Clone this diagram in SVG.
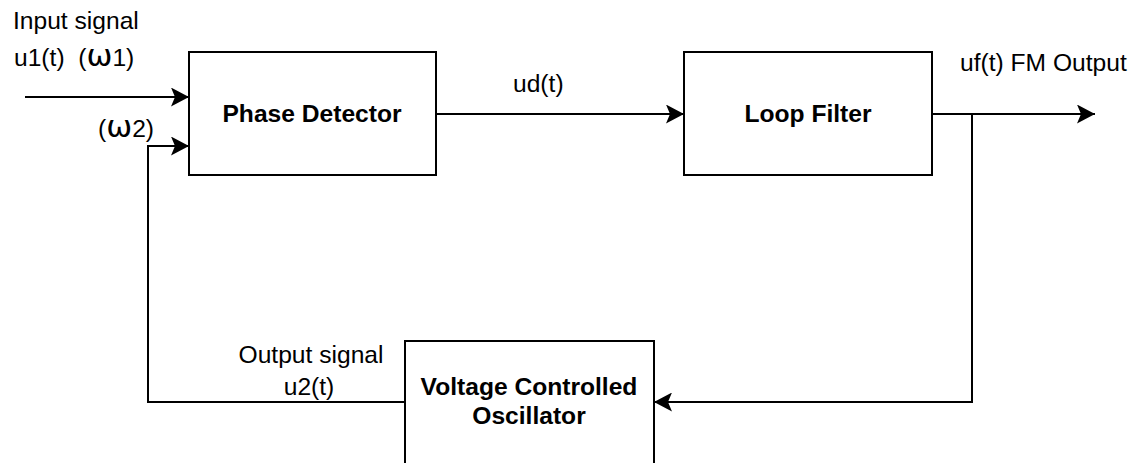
<svg xmlns="http://www.w3.org/2000/svg" width="1136" height="463" viewBox="0 0 1136 463">
  <defs>
    <style>
      .box { fill: #ffffff; stroke: #000000; stroke-width: 2; }
      .wire { fill: none; stroke: #000000; stroke-width: 2; }
      .lbl { font-family: "Liberation Sans", Arial, Helvetica, sans-serif; font-size: 24.6px; fill: #000000; }
      .title { font-family: "Liberation Sans", Arial, Helvetica, sans-serif; font-size: 24.6px; font-weight: bold; fill: #000000; text-anchor: middle; }
      .om { font-family: "DejaVu Sans", sans-serif; font-size: 31px; }
    </style>
    <marker id="arrow" viewBox="0 0 18 19" refX="18" refY="9.5" markerWidth="18" markerHeight="19" markerUnits="userSpaceOnUse" orient="auto">
      <path d="M18,9.5 L0,0 L4,9.5 L0,19 Z" fill="#000000"/>
    </marker>
  </defs>
  <rect width="1136" height="463" fill="#ffffff"/>

  <g id="connectors">
    <path class="wire" d="M25,97 L189,97" marker-end="url(#arrow)"/>
    <path class="wire" d="M405,402 L148,402 L148,146 L189,146" marker-end="url(#arrow)"/>
    <path class="wire" d="M436,114 L684,114" marker-end="url(#arrow)"/>
    <path class="wire" d="M932,114 L1095,114" marker-end="url(#arrow)"/>
    <path class="wire" d="M972,114 L972,402 L654,402" marker-end="url(#arrow)"/>
  </g>

  <g id="phase-detector">
    <rect class="box" x="189" y="52" width="247" height="123"/>
    <text class="title" x="312" y="122">Phase Detector</text>
  </g>

  <g id="loop-filter">
    <rect class="box" x="684" y="52" width="248" height="123"/>
    <text class="title" x="808" y="122">Loop Filter</text>
  </g>

  <g id="vco">
    <rect class="box" x="405" y="341" width="249" height="140"/>
    <text class="title" x="529" y="395">Voltage Controlled</text>
    <text class="title" x="529" y="424">Oscillator</text>
  </g>

  <g id="labels">
    <text class="lbl" x="13" y="29">Input signal</text>
    <text class="lbl" x="14" y="66" xml:space="preserve">u1(t)  (<tspan class="om">ω</tspan>1)</text>
    <text class="lbl" x="98" y="137">(<tspan class="om">ω</tspan>2)</text>
    <text class="lbl" x="513" y="92">ud(t)</text>
    <text class="lbl" x="960" y="71">uf(t) FM Output</text>
    <text class="lbl" x="311" y="363" text-anchor="middle">Output signal</text>
    <text class="lbl" x="309" y="395" text-anchor="middle">u2(t)</text>
  </g>
</svg>
